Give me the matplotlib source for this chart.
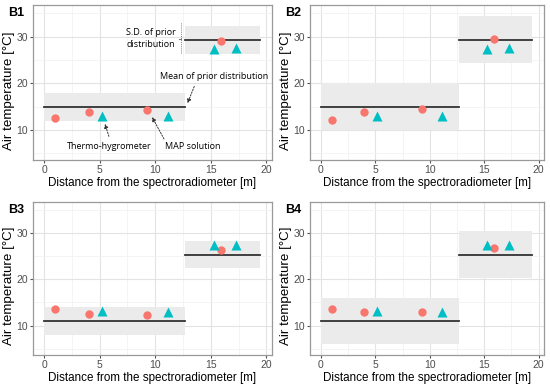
import matplotlib.pyplot as plt
from matplotlib.ticker import MultipleLocator

# Measurement positions [m]
map_x = [1.0, 4.0, 9.3, 15.9]
thermo_x = [5.2, 11.1, 15.3, 17.3]
thermo_y = [13.1, 13.0, 27.4, 27.5]

# Panel labels and values
panels = ['B1', 'B2', 'B3', 'B4']
map_y = {
    'B1': [12.7, 13.8, 14.3, 29.1],
    'B2': [12.2, 13.8, 14.6, 29.5],
    'B3': [13.5, 12.5, 12.3, 26.3],
    'B4': [13.5, 12.9, 12.9, 26.9],
}
# prior segments: (x start, x end)
seg_x = [(0.0, 12.7), (12.7, 19.4)]
prior_mean = {
    'B1': [15.0, 29.4],
    'B2': [15.0, 29.4],
    'B3': [11.0, 25.4],
    'B4': [11.0, 25.4],
}
prior_sd = {'B1': 3.0, 'B2': 5.0, 'B3': 3.0, 'B4': 5.0}

RED = '#F8766D'
TEAL = '#00BFC4'
FONT = 'Liberation Sans'
NOTE_FONT = 'Open Sans'

# axes rectangles in pixels (left, top, right, bottom)
W, H = 550, 386
boxes = {
    'B1': (33, 5, 272, 160),
    'B2': (310, 5, 544, 160),
    'B3': (33, 202, 272, 355),
    'B4': (310, 202, 544, 355),
}

fig = plt.figure(figsize=(W / 100, H / 100), dpi=100)

for name in panels:
    l, t, r, b = boxes[name]
    ax = fig.add_axes([l / W, 1 - b / H, (r - l) / W, (b - t) / H])
    ax.set_xlim(-1.0, 20.5)
    ax.set_ylim(3.6, 36.8)
    ax.xaxis.set_major_locator(MultipleLocator(5))
    ax.xaxis.set_minor_locator(MultipleLocator(2.5))
    ax.yaxis.set_major_locator(MultipleLocator(10))
    ax.yaxis.set_minor_locator(MultipleLocator(5))
    ax.grid(which='major', color='#E3E3E3', lw=0.8)
    ax.grid(which='minor', color='#F2F2F2', lw=0.6)
    ax.set_axisbelow(True)
    for sp in ax.spines.values():
        sp.set_color('#999999')
        sp.set_linewidth(0.9)
    ax.tick_params(which='major', length=2.2, color='#555555', labelsize=7.5,
                   labelcolor='#4D4D4D', pad=1.5)
    ax.tick_params(which='minor', length=0)
    for lab in ax.get_xticklabels() + ax.get_yticklabels():
        lab.set_family(FONT)

    sd = prior_sd[name]
    for (x0, x1), m in zip(seg_x, prior_mean[name]):
        ax.fill_between([x0, x1], m - sd, m + sd, color='#EBEBEB', lw=0, zorder=1)
        ax.plot([x0, x1], [m, m], color='#333333', lw=1.3, zorder=2)

    ax.scatter(map_x, map_y[name], s=36, color=RED, zorder=3, lw=0)
    ax.scatter(thermo_x, thermo_y, s=52, marker='^', color=TEAL, zorder=3, lw=0)

    ax.set_xlabel('Distance from the spectroradiometer [m]', family=FONT,
                  fontsize=8.4, labelpad=1)
    ax.set_ylabel('Air temperature [°C]', family=FONT, fontsize=9.6)
    ax.yaxis.set_label_coords(-0.075, 0.45)
    fig.text((l - 25) / W, 1 - (t + 8) / H, name, family=FONT, fontsize=9,
             fontweight='bold', va='center', ha='left')

    if name == 'B1':
        dotted = dict(arrowstyle='-|>', ls=(0, (1.5, 1.5)), lw=0.7, color='#333333',
                      mutation_scale=6)
        ax.text(11.8, 29.6, 'S.D. of prior\ndistribution', family=NOTE_FONT,
                fontsize=6.5, ha='right', va='center', linespacing=1.5)
        ax.plot([12.35, 12.35], [26.5, 32.9], color='#555555', lw=0.6, ls=(0, (1, 1.5)))
        ax.plot([12.1, 12.35], [29.5, 29.5], color='#555555', lw=0.6)
        ax.text(10.4, 21.4, 'Mean of prior distribution', family=NOTE_FONT,
                fontsize=6.5, ha='left', va='center')
        ax.annotate('', xy=(12.8, 15.2), xytext=(13.6, 19.9), arrowprops=dotted)
        ax.text(5.9, 6.4, 'Thermo-hygrometer', family=NOTE_FONT, fontsize=6.5,
                ha='center', va='center')
        ax.annotate('', xy=(5.4, 11.9), xytext=(5.9, 8.1), arrowprops=dotted)
        ax.text(13.4, 6.4, 'MAP solution', family=NOTE_FONT, fontsize=6.5,
                ha='center', va='center')
        ax.annotate('', xy=(9.6, 13.3), xytext=(10.9, 7.6), arrowprops=dotted)

fig.savefig('out.png', dpi=100)
